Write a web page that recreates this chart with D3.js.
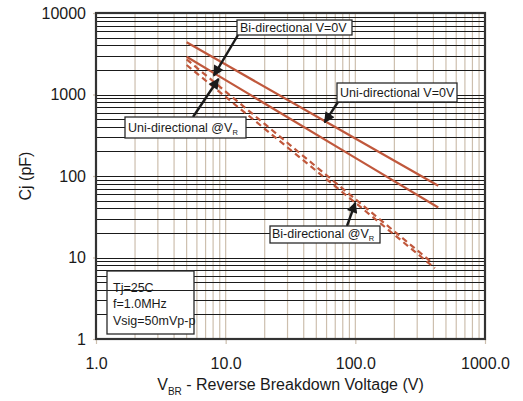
<!DOCTYPE html>
<html>
<head>
<meta charset="utf-8">
<script src="https://cdn.jsdelivr.net/npm/d3@7"></script>
<style>
  body { margin: 0; background: #fff; }
  text { font-family: Arial, "Liberation Sans", sans-serif; }
</style>
</head>
<body>
<svg id="chart" width="523" height="401"></svg>
<script>
// Axis ticks
const xTickValues = [1, 10, 100, 1000];
const xTickLabels = ["1.0", "10.0", "100.0", "1000.0"];
const yTickValues = [1, 10, 100, 1000, 10000];
const yTickLabels = ["1", "10", "100", "1000", "10000"];

// Junction capacitance (pF) versus breakdown voltage (V)
const uniV0Volts = [5, 10, 100, 436];
const uniV0Cap   = [4370, 2330, 288, 76];
const biV0Volts  = [5, 10, 100, 436];
const biV0Cap    = [2910, 1500, 167, 41];
const uniVRVolts = [5, 10, 100, 400];
const uniVRCap   = [2700, 1085, 52, 8.4];
const biVRVolts  = [5, 10, 100, 411];
const biVRCap    = [2300, 933, 47, 7.4];

const conditions = ["Tj=25C", "f=1.0MHz", "Vsig=50mVp-p"];

const plot = { left: 96, right: 485, top: 13, bottom: 339 };

const svg = d3.select("#chart");
const x = d3.scaleLog().domain([1, 1000]).range([plot.left, plot.right]);
const y = d3.scaleLog().domain([1, 10000]).range([plot.bottom, plot.top]);

// minor grid values (2..9 in each decade)
function decadeLines(lo, hi) {
  const out = [];
  for (let d = lo; d < hi; d *= 10) {
    for (let k = 1; k <= 9; k++) out.push(d * k);
  }
  return out.filter(v => v > lo && v < hi);
}

const grid = svg.append("g");
grid.selectAll("line.v").data(decadeLines(1, 1000)).enter().append("line")
  .attr("x1", d => x(d)).attr("x2", d => x(d))
  .attr("y1", plot.top).attr("y2", plot.bottom)
  .attr("stroke", "#cdbfae").attr("stroke-width", 1.2);
grid.selectAll("line.h").data(decadeLines(1, 10000)).enter().append("line")
  .attr("x1", plot.left).attr("x2", plot.right)
  .attr("y1", d => Math.round(y(d)) + 0.5).attr("y2", d => Math.round(y(d)) + 0.5)
  .attr("stroke", "#1a1a1a").attr("stroke-width", 1.1);

// axes
const xAxis = svg.append("g")
  .attr("transform", `translate(0,${plot.bottom})`)
  .call(d3.axisBottom(x).tickValues(xTickValues)
    .tickFormat((d, i) => xTickLabels[i]).tickSize(5).tickPadding(14));
const yAxis = svg.append("g")
  .attr("transform", `translate(${plot.left},0)`)
  .call(d3.axisLeft(y).tickValues(yTickValues)
    .tickFormat((d, i) => yTickLabels[i]).tickSize(3).tickPadding(7));
[xAxis, yAxis].forEach(a => {
  a.select(".domain").remove();
  a.selectAll(".tick line").attr("stroke", "#cdbfae").attr("stroke-width", 1.2);
  a.selectAll(".tick text").attr("fill", "#1a1a1a")
    .style("font-size", "16px").style("font-family", "Arial, 'Liberation Sans', sans-serif");
});

// frame
svg.append("rect")
  .attr("x", plot.left).attr("y", plot.top)
  .attr("width", plot.right - plot.left).attr("height", plot.bottom - plot.top)
  .attr("fill", "none").attr("stroke", "#333").attr("stroke-width", 2.2);

// curves
const line = d3.line().x(d => x(d[0])).y(d => y(d[1]));
const series = [
  { v: uniV0Volts, c: uniV0Cap, dash: null },
  { v: biV0Volts,  c: biV0Cap,  dash: null },
  { v: uniVRVolts, c: uniVRCap, dash: "6,4" },
  { v: biVRVolts,  c: biVRCap,  dash: "6,4" }
];
svg.append("g").selectAll("path").data(series).enter().append("path")
  .attr("d", s => line(s.v.map((v, i) => [v, s.c[i]])))
  .attr("fill", "none").attr("stroke", "#c0583c").attr("stroke-width", 2.2)
  .attr("stroke-dasharray", s => s.dash);

// arrow marker
svg.append("defs").append("marker")
  .attr("id", "head").attr("viewBox", "0 0 10 10")
  .attr("refX", 9).attr("refY", 5)
  .attr("markerWidth", 5.5).attr("markerHeight", 4.5)
  .attr("markerUnits", "strokeWidth").attr("orient", "auto")
  .append("path").attr("d", "M0,0 L10,5 L0,10 z").attr("fill", "#1a1a1a");

// callouts: box, label, arrow tail (px) and arrow tip (data)
const callouts = [
  { box: [237, 20, 115, 15], tx: 240, ty: 31.5, text: "Bi-directional V=0V", sub: null,
    tail: [238, 35], tip: [8.1, 1700] },
  { box: [337, 83, 120, 19], tx: 340, ty: 97, text: "Uni-directional V=0V", sub: null,
    tail: [338, 102], tip: [58, 455] },
  { box: [125, 117, 121, 21], tx: 128, ty: 131.5, text: "Uni-directional @V", sub: "R",
    tail: [193, 117], tip: [8.8, 1550] },
  { box: [270, 226, 110, 17], tx: 272, ty: 238, text: "Bi-directional @V", sub: "R",
    tail: [347, 226], tip: [100, 47] }
];
const cg = svg.append("g");
callouts.forEach(c => {
  cg.append("line")
    .attr("x1", c.tail[0]).attr("y1", c.tail[1])
    .attr("x2", x(c.tip[0])).attr("y2", y(c.tip[1]))
    .attr("stroke", "#1a1a1a").attr("stroke-width", 2.4)
    .attr("marker-end", "url(#head)");
  cg.append("rect")
    .attr("x", c.box[0]).attr("y", c.box[1])
    .attr("width", c.box[2]).attr("height", c.box[3])
    .attr("fill", "#fff").attr("stroke", "#2a2a2a").attr("stroke-width", 1.3);
  const t = cg.append("text").attr("x", c.tx).attr("y", c.ty)
    .attr("fill", "#1a1a1a").style("font-size", "12.5px").text(c.text);
  if (c.sub) {
    t.append("tspan").attr("dy", 3).style("font-size", "7.5px").text(c.sub);
  }
});

// test conditions box
const condBox = [107, 271, 87, 63];
svg.append("rect")
  .attr("x", condBox[0]).attr("y", condBox[1])
  .attr("width", condBox[2]).attr("height", condBox[3])
  .attr("fill", "#fff").attr("stroke", "#2a2a2a").attr("stroke-width", 1.3);
svg.append("line")
  .attr("x1", condBox[0]).attr("x2", condBox[0] + condBox[2])
  .attr("y1", Math.round(y(4)) + 0.5).attr("y2", Math.round(y(4)) + 0.5)
  .attr("stroke", "#1e1e1e").attr("stroke-width", 1);
svg.append("g").selectAll("text").data(conditions).enter().append("text")
  .attr("x", 113).attr("y", (d, i) => 292 + i * 16.3)
  .attr("fill", "#1a1a1a").style("font-size", "12.5px").text(d => d);

// axis titles
const xt = svg.append("text").attr("x", (plot.left + plot.right) / 2).attr("y", 390)
  .attr("text-anchor", "middle").attr("fill", "#1a1a1a").style("font-size", "16px");
xt.append("tspan").text("V");
xt.append("tspan").attr("dy", 5).style("font-size", "10px").text("BR");
xt.append("tspan").attr("dy", -5).text(" - Reverse Breakdown Voltage (V)");

svg.append("text")
  .attr("transform", `translate(31,${(plot.top + plot.bottom) / 2}) rotate(-90)`)
  .attr("text-anchor", "middle").attr("fill", "#1a1a1a").style("font-size", "16px")
  .text("Cj (pF)");
</script>
</body>
</html>
